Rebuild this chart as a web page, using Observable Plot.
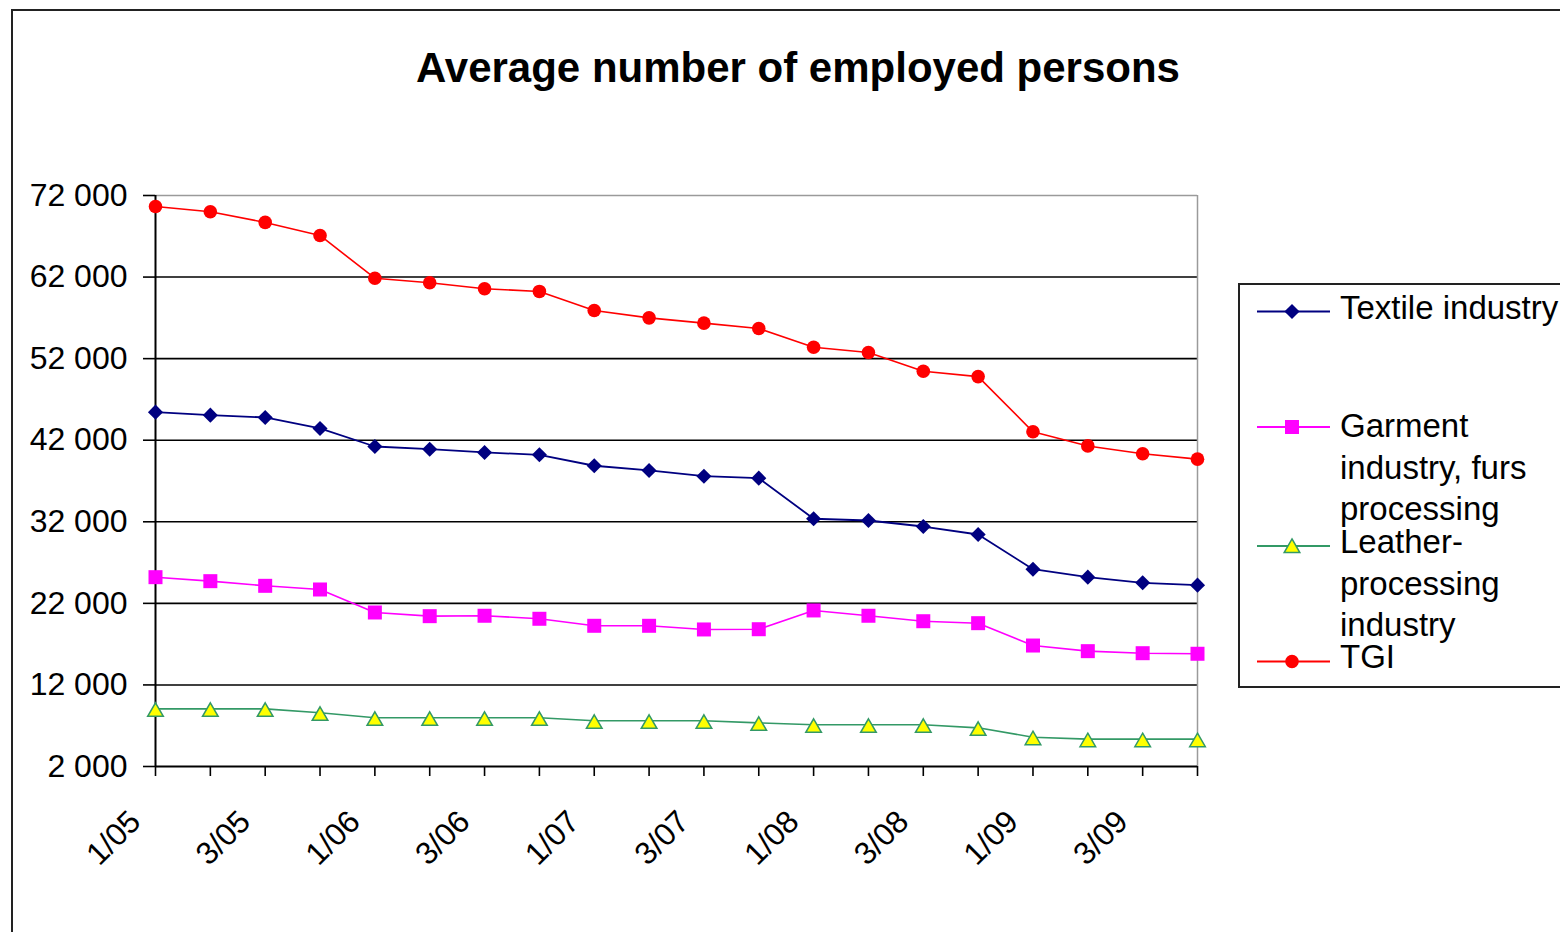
<!DOCTYPE html>
<html>
<head>
<meta charset="utf-8">
<script src="https://cdn.jsdelivr.net/npm/d3@7"></script>
<script src="https://cdn.jsdelivr.net/npm/@observablehq/plot@0.6"></script>
<style>
  html, body { margin: 0; padding: 0; background: #fff; overflow: hidden; width: 1560px; height: 932px; }
  #wrap { position: relative; width: 1560px; height: 932px; overflow: hidden; font-family: "Liberation Sans", Arial, sans-serif; }
  #frame { position: absolute; left: 11px; top: 9px; width: 2000px; height: 2000px; border: 2px solid #222; box-sizing: border-box; }
  #title { position: absolute; left: 0; top: 47px; width: 1596px; text-align: center; font-size: 42px; line-height: 42px; font-weight: bold; color: #000; white-space: nowrap; }
  #chart { position: absolute; left: 0; top: 120px; }
  #legend { position: absolute; left: 0; top: 0; pointer-events: none; }
</style>
</head>
<body>
<div id="wrap">
  <div id="frame"></div>
  <div id="title">Average number of employed persons</div>
  <div id="chart"></div>
  <svg id="legend" width="1560" height="932"></svg>
</div>
<script>
// ---- data ----
const quarters = ["1/05","2/05","3/05","4/05","1/06","2/06","3/06","4/06","1/07","2/07","3/07","4/07","1/08","2/08","3/08","4/08","1/09","2/09","3/09","4/09"];
const textile = [45440, 45070, 44790, 43440, 41230, 40900, 40500, 40210, 38870, 38290, 37590, 37350, 32370, 32160, 31420, 30440, 26190, 25210, 24520, 24230];
const garment = [25210, 24720, 24150, 23700, 20880, 20430, 20480, 20110, 19250, 19250, 18800, 18830, 21130, 20480, 19810, 19570, 16830, 16140, 15890, 15820];
const leather = [9070, 9070, 9070, 8580, 7970, 7970, 7970, 7970, 7600, 7600, 7600, 7350, 7110, 7110, 7110, 6740, 5590, 5350, 5350, 5350];
const tgi = [70650, 70000, 68700, 67100, 61860, 61300, 60570, 60240, 57900, 57000, 56350, 55700, 53400, 52760, 50460, 49800, 43030, 41300, 40340, 39680];
const yTicks = [2000, 12000, 22000, 32000, 42000, 52000, 62000, 72000];
const xLabels = ["1/05","3/05","1/06","3/06","1/07","3/07","1/08","3/08","1/09","3/09"];
const seriesNames = ["Textile industry", "Garment industry, furs processing", "Leather-processing industry", "TGI"];

const mk = arr => quarters.map((q, i) => ({q, v: arr[i]}));
const fmt = d => d3.format(",")(d).replace(/,/g, " ");

const COL = {textile: "#000080", garment: "#FF00FF", leather: "#339966", leatherFill: "#FFFF00", tgi: "#FF0000"};

const chart = Plot.plot({
  width: 1560,
  height: 812,
  marginLeft: 155,
  marginRight: 363,
  marginTop: 75,
  marginBottom: 166,
  style: {fontFamily: "'Liberation Sans', Arial, sans-serif", fontSize: "32px", color: "#000", background: "transparent", overflow: "visible"},
  x: {type: "point", domain: quarters, padding: 0, round: false},
  y: {domain: [2000, 72000]},
  marks: [
    Plot.ruleY(yTicks.slice(1, -1), {stroke: "#000", strokeWidth: 1.6}),
    Plot.ruleY([72000], {stroke: "#9a9a9a", strokeWidth: 1.5}),
    Plot.ruleX([quarters[quarters.length - 1]], {stroke: "#9a9a9a", strokeWidth: 1.5}),
    Plot.axisY({ticks: yTicks, tickSize: 12, tickPadding: 16, tickFormat: fmt, label: null, stroke: "#000", strokeWidth: 1.6}),
    Plot.axisX({ticks: quarters, tickSize: 10, tickFormat: () => "", label: null, stroke: "#000", strokeWidth: 1.6}),
    Plot.ruleX([quarters[0]], {stroke: "#000", strokeWidth: 2}),
    Plot.ruleY([2000], {stroke: "#000", strokeWidth: 2}),
    Plot.text(xLabels, {x: d => d, frameAnchor: "bottom", rotate: -45, textAnchor: "end", dx: -13, dy: 57, fontSize: 31.5, fill: "#000"}),
    // lines
    Plot.line(mk(leather), {x: "q", y: "v", stroke: COL.leather, strokeWidth: 1.6}),
    Plot.line(mk(garment), {x: "q", y: "v", stroke: COL.garment, strokeWidth: 1.6}),
    Plot.line(mk(textile), {x: "q", y: "v", stroke: COL.textile, strokeWidth: 1.8}),
    Plot.line(mk(tgi), {x: "q", y: "v", stroke: COL.tgi, strokeWidth: 1.6}),
    // markers
    Plot.dot(mk(leather), {x: "q", y: "v", symbol: "triangle", r: 5.8, fill: COL.leatherFill, stroke: COL.leather, strokeWidth: 1.5, dy: 3}),
    Plot.dot(mk(garment), {x: "q", y: "v", symbol: "square", r: 7.9, fill: COL.garment, stroke: "none"}),
    Plot.dot(mk(textile), {x: "q", y: "v", symbol: "diamond2", r: 6.8, fill: COL.textile, stroke: "none"}),
    Plot.dot(mk(tgi), {x: "q", y: "v", symbol: "circle", r: 6.8, fill: COL.tgi, stroke: "none"})
  ]
});
document.getElementById("chart").appendChild(chart);

// ---- legend ----
const lg = d3.select("#legend");
lg.append("rect").attr("x", 1239).attr("y", 284).attr("width", 400).attr("height", 403)
  .attr("fill", "none").attr("stroke", "#222").attr("stroke-width", 2);
const entries = [
  {lineY: 311.5, color: COL.textile, fill: COL.textile, stroke: "none", sym: d3.symbolDiamond2, size: 6.8, dy: 0, lines: ["Textile industry"], base: 319},
  {lineY: 427, color: COL.garment, fill: COL.garment, stroke: "none", sym: d3.symbolSquare, size: 7.9, dy: 0, lines: ["Garment", "industry, furs", "processing"], base: 437},
  {lineY: 546, color: COL.leather, fill: COL.leatherFill, stroke: COL.leather, sym: d3.symbolTriangle, size: 5.8, dy: 2, lines: ["Leather-", "processing", "industry"], base: 553},
  {lineY: 661.5, color: COL.tgi, fill: COL.tgi, stroke: "none", sym: d3.symbolCircle, size: 6.8, dy: 0, lines: ["TGI"], base: 668}
];
entries.forEach((e, k) => {
  lg.append("line").attr("x1", 1257).attr("x2", 1330).attr("y1", e.lineY).attr("y2", e.lineY)
    .attr("stroke", e.color).attr("stroke-width", 1.8);
  lg.append("path").attr("d", d3.symbol(e.sym, e.size * e.size * Math.PI)())
    .attr("transform", `translate(1292,${e.lineY + e.dy})`)
    .attr("fill", e.fill).attr("stroke", e.stroke).attr("stroke-width", 1.5);
  const t = lg.append("text").attr("x", 1340).attr("font-family", "'Liberation Sans', Arial, sans-serif")
    .attr("font-size", 33).attr("fill", "#000");
  e.lines.forEach((ln, j) => {
    t.append("tspan").attr("x", 1340).attr("y", e.base + j * 41.5).text(ln);
  });
});
</script>
</body>
</html>
